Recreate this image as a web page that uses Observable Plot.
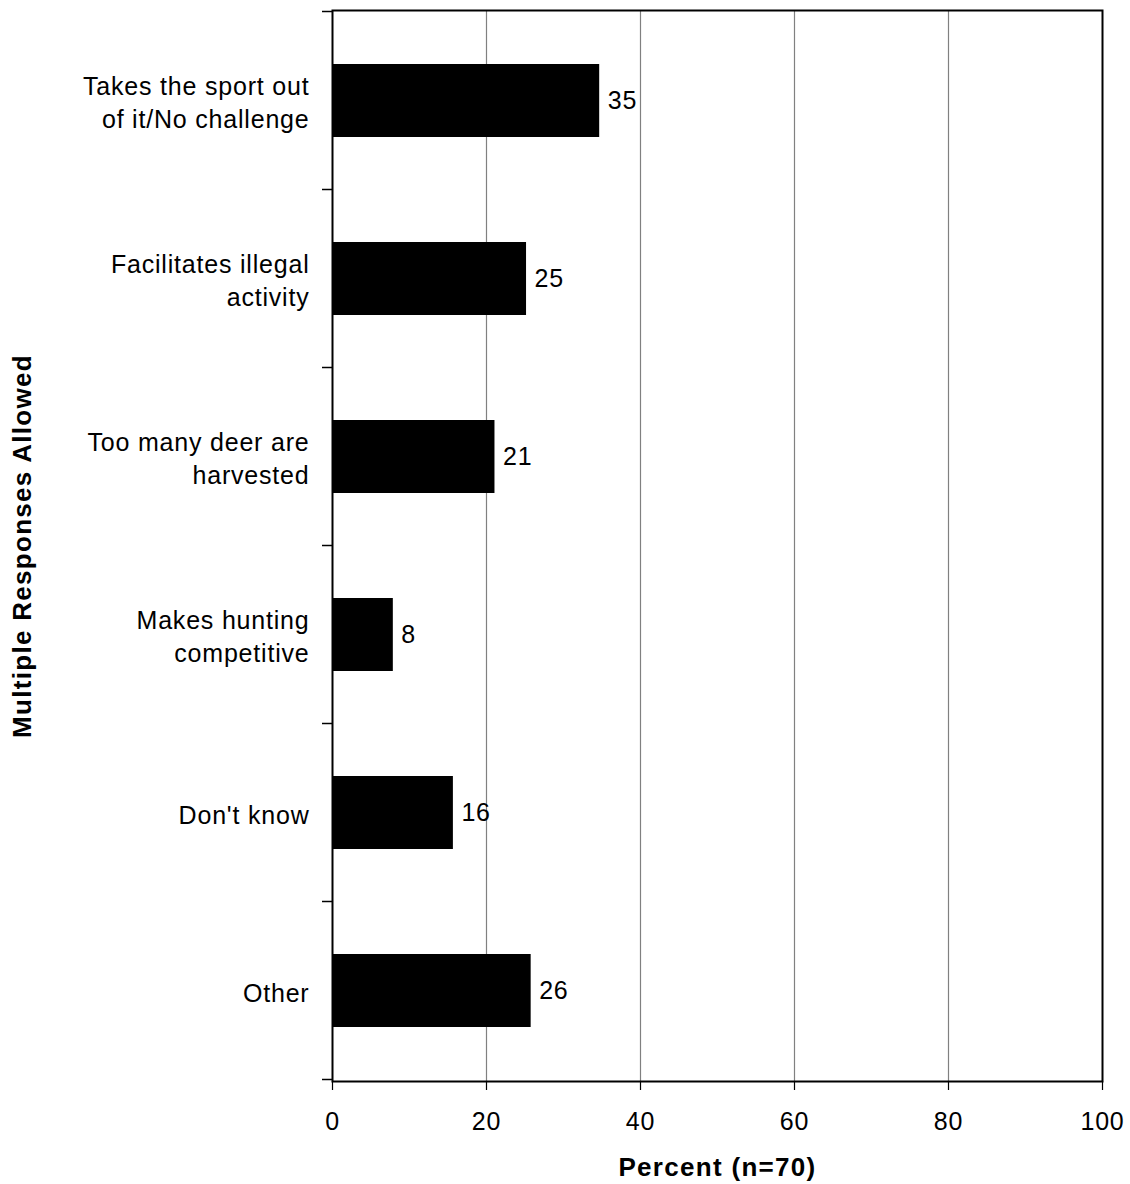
<!DOCTYPE html>
<html><head><meta charset="utf-8">
<script src="https://cdn.jsdelivr.net/npm/d3@7"></script>
<script src="https://cdn.jsdelivr.net/npm/@observablehq/plot@0.6"></script>
<style>body{margin:0;background:#fff;} svg{font-family:"Liberation Sans",Arial,sans-serif;}</style>
</head><body><div id="chart"></div>
<script>
const categories = ["Takes the sport out\nof it/No challenge", "Facilitates illegal\nactivity", "Too many deer are\nharvested", "Makes hunting\ncompetitive", "Don't know", "Other"];
const values = [34.7, 25.2, 21.1, 7.9, 15.7, 25.8];
const labels = ["35", "25", "21", "8", "16", "26"];
const xTicks = [0, 20, 40, 60, 80, 100];
const xLabel = "Percent (n=70)";
const yLabel = "Multiple Responses Allowed";

const data = categories.map((c, i) => ({cat: c, value: values[i], label: labels[i]}));

const boundaryTicks = (index, scales, values, dims, context) => {
  const g = d3.create("svg:g");
  const bwRaw = scales.y.bandwidth;
  const bw = typeof bwRaw === "function" ? bwRaw() : bwRaw;
  const pos = categories.map(c => scales.y(c));
  const step = pos[1] - pos[0];
  const x0 = scales.x(0);
  const ys = pos.map(p => p - (step - bw) / 2);
  ys.push(ys[ys.length - 1] + step);
  for (const y of ys) {
    g.append("line").attr("x1", x0 - 10).attr("x2", x0).attr("y1", y).attr("y2", y)
      .attr("stroke", "black").attr("stroke-width", 1.5);
  }
  return g.node();
};

const FS = 25;
const chart = Plot.plot({
  width: 1130, height: 1184,
  marginLeft: 332, marginRight: 28, marginTop: 10, marginBottom: 103,
  style: {fontSize: FS + "px", fontFamily: "Liberation Sans, Arial, sans-serif", background: "#fff", letterSpacing: "0.8px"},
  x: {domain: [0, 100]},
  y: {domain: categories, paddingInner: 0.59, paddingOuter: 0.295, align: 0.5, axis: null},
  marks: [
    Plot.ruleX(xTicks.filter(t => t > 0 && t < 100), {stroke: "#808080", strokeWidth: 1.2, strokeOpacity: 1}),
    Plot.barX(data, {x: "value", y: "cat", fill: "black"}),
    Plot.text(data, {x: "value", y: "cat", text: "label", textAnchor: "start", dx: 8, fontSize: FS, fill: "black"}),
    Plot.text(data, {y: "cat", text: "cat", frameAnchor: "left", textAnchor: "end", dx: -23, fontSize: FS, lineHeight: 1.32, fill: "black"}),
    Plot.axisX({ticks: xTicks, tickSize: 9, tickPadding: 22, fontSize: FS, label: null, stroke: "black", strokeWidth: 1.2}),
    Plot.frame({stroke: "black", strokeWidth: 2}),
    boundaryTicks,
    Plot.text([xLabel], {text: d => d, frameAnchor: "bottom", dy: 94, fontWeight: "bold", fontSize: 26, fill: "black"}),
    Plot.text([yLabel], {text: d => d, frameAnchor: "left", textAnchor: "middle", rotate: -90, dx: -310, fontWeight: "bold", fontSize: 26, fill: "black"})
  ]
});
d3.select(chart).selectAll('[font-weight="bold"]').attr("letter-spacing", "1.3px");
document.getElementById("chart").appendChild(chart);
</script>
</body></html>
